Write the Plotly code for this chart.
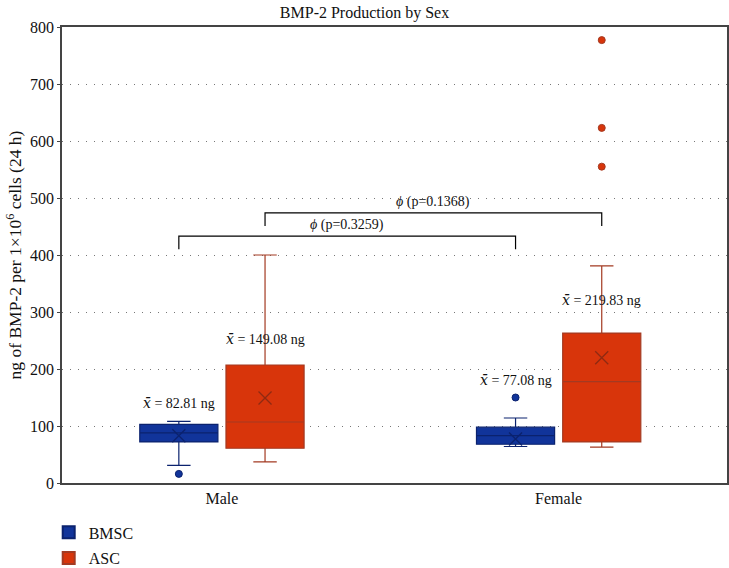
import plotly.graph_objects as go

categories = ["Male", "Female"]
series = ["BMSC", "ASC"]

# box statistics per series, per category (Male, Female)
q1 = {"BMSC": [72, 68], "ASC": [61, 72]}
median = {"BMSC": [88, 83], "ASC": [107, 178]}
q3 = {"BMSC": [103, 98], "ASC": [207, 263]}
lowerfence = {"BMSC": [31, 64], "ASC": [37, 63]}
upperfence = {"BMSC": [108, 114], "ASC": [400, 381]}
means = {"BMSC": [82.81, 77.08], "ASC": [149.08, 219.83]}
outliers = {"BMSC": [[16], [150]], "ASC": [[], [555, 623, 777]]}
mean_label_y = {"BMSC": [141, 181], "ASC": [253, 321]}

pvals = ["0.3259", "0.1368"]
bracket_y = {"BMSC": 433, "ASC": 474}

fill = {"BMSC": "#11349A", "ASC": "#D8350B"}
line = {"BMSC": "#0B226E", "ASC": "#A33A22"}
xmark = {"BMSC": "#0B226E", "ASC": "#8E2A12"}
offset = {"BMSC": -0.128, "ASC": 0.128}

FONT = "Liberation Serif"
XBAR = '<span style="font-family:DejaVu Serif;font-style:italic">x̄</span>'
fig = go.Figure()

for s in series:
    xs = [i + offset[s] for i in range(len(categories))]
    fig.add_trace(go.Box(
        x=xs, q1=q1[s], median=median[s], q3=q3[s],
        lowerfence=lowerfence[s], upperfence=upperfence[s],
        width=0.232, whiskerwidth=0.3, fillcolor=fill[s],
        line=dict(color=line[s], width=1.2), showlegend=False,
        hoverinfo="skip"))
    # means
    fig.add_trace(go.Scatter(
        x=xs, y=means[s], mode="markers", showlegend=False,
        marker=dict(symbol="x-thin-open", size=13, color=xmark[s],
                    line=dict(color=xmark[s], width=1.3))))
    # outliers
    ox, oy = [], []
    for i, vals in enumerate(outliers[s]):
        for v in vals:
            ox.append(i + offset[s]); oy.append(v)
    fig.add_trace(go.Scatter(
        x=ox, y=oy, mode="markers", showlegend=False,
        marker=dict(symbol="circle", size=7, color=fill[s], line=dict(color=line[s], width=1))))
    # mean labels
    for i in range(len(categories)):
        fig.add_annotation(x=i + offset[s], y=mean_label_y[s][i],
                           text="%s = %.2f ng" % (XBAR, means[s][i]),
                           showarrow=False, font=dict(family=FONT, size=14, color="#111"),
                           xanchor="center", yanchor="middle")
    # legend entry
    fig.add_trace(go.Scatter(
        x=[None], y=[None], mode="markers", name=s, legendgroup=s,
        marker=dict(symbol="square", size=15, color=fill[s], line=dict(color=line[s], width=1))))

# significance brackets
drop = 23
for k, s in enumerate(series):
    x0 = 0 + offset[s]; x1 = 1 + offset[s]; yb = bracket_y[s]
    fig.add_trace(go.Scatter(
        x=[x0, x0, x1, x1], y=[yb - drop, yb, yb, yb - drop], mode="lines",
        line=dict(color="black", width=1.2), showlegend=False, hoverinfo="skip"))
    fig.add_annotation(x=(x0 + x1) / 2, y=yb, text="<i>ϕ</i> (p=%s)" % pvals[k],
                       showarrow=False, yanchor="bottom", yshift=1,
                       font=dict(family=FONT, size=14, color="#111"))

fig.update_layout(
    width=729, height=568,
    margin=dict(l=62, r=2, t=27, b=85, autoexpand=False),
    paper_bgcolor="white", plot_bgcolor="white",
    title=dict(text="BMP-2 Production by Sex", x=0.5, xanchor="center", y=0.988, yanchor="top",
               font=dict(family=FONT, size=16, color="#111")),
    font=dict(family=FONT, size=14, color="#111"),
    legend=dict(x=-0.02, xanchor="left", y=-0.071, yanchor="top", orientation="v",
                tracegroupgap=2, font=dict(family=FONT, size=16, color="#111"),
                itemsizing="constant"),
    showlegend=True,
)
fig.update_xaxes(range=[-0.475, 1.5], tickvals=list(range(len(categories))), ticktext=categories,
                 showgrid=False, zeroline=False, showline=True, linecolor="#444", linewidth=1.5,
                 mirror=True, ticks="", tickfont=dict(family=FONT, size=16))
fig.update_yaxes(range=[0, 800], dtick=100, showgrid=True, gridcolor="#777", griddash="1px,7px",
                 gridwidth=1.2, zeroline=False, showline=True, linecolor="#444", linewidth=1.5,
                 mirror=True, ticks="outside", ticklen=3, tickcolor="#444",
                 tickfont=dict(family=FONT, size=16),
                 title=dict(text="ng of BMP-2 per 1×10<sup>6</sup> cells (24 h)",
                            font=dict(family=FONT, size=17.5), standoff=4))

fig.write_html("out.html")
